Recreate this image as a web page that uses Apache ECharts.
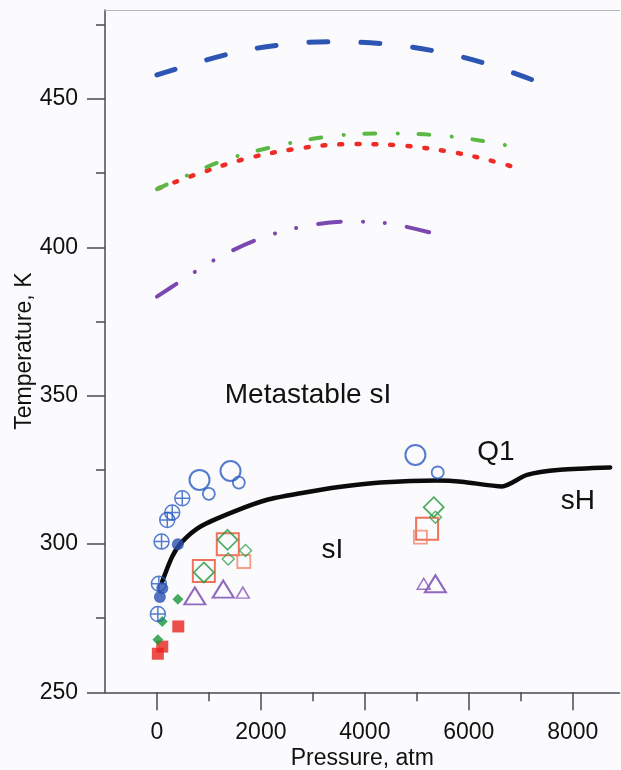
<!DOCTYPE html>
<html><head><meta charset="utf-8">
<script src="https://cdn.jsdelivr.net/npm/echarts@6/dist/echarts.min.js"></script>
<style>html,body{margin:0;padding:0;background:#fbfbfd}#c{width:621px;height:770px}</style>
</head><body><div id="c"></div>
<script>
// ---- tick labels ----
const xMajorTicks = [0, 2000, 4000, 6000, 8000];
const xMinorTicks = [1000, 3000, 5000, 7000];
const yMajorTicks = [250, 300, 350, 400, 450];
const yMinorTicks = [275, 325, 375, 425, 475];

// ---- curves [pressure atm, temperature K] ----
const curveBlue   = [[0,458.1],[1383,465.2],[2358,468.2],[3358,469.3],[4363,468.6],[5338,466.2],[6319,462.0],[7262,456.2]];
const curveGreen  = [[0,419.6],[1223,428.9],[2313,434.2],[3371,437.5],[4429,438.4],[5517,437.6],[6608,434.8],[6992,433.0]];
const curveRed    = [[30,419.9],[775,424.7],[1737,430.0],[2762,433.4],[3723,434.8],[4717,434.3],[5710,432.0],[6383,429.4],[7056,426.1]];
const curvePurple = [[0,383.4],[440,388.4],[1140,396.1],[1960,402.8],[2762,406.8],[3671,408.7],[4506,407.9],[5421,404.2]];
const curveQ1     = [[100,287.3],[294,295.8],[487,300.8],[838,305.9],[1479,310.9],[2121,314.9],[2762,317.1],[3500,319.2],[4300,320.7],[5390,321.4],[5864,321.0],[6640,319.4],[7120,323.3],[7760,325.0],[8720,325.8]];

// ---- experimental points ----
const crossedCircles    = [[487,315.4],[294,310.6],[198,308.1],[88,300.8],[37,286.6],[17,276.4]];
const openCirclesLarge  = [[819,321.6],[1415,324.6],[4973,330.0]];
const openCirclesSmall  = [[998,316.9],[1575,320.7],[5402,324.1]];
const filledCircles     = [[402,299.9],[102,285.1],[56,282.1]];
const filledDiamonds    = [[402,281.4],[102,273.9],[17,267.7]];
const filledSquares     = [[410,272.2],[102,265.4],[17,263.0]];
const openSquaresLarge  = [[1363,299.9],[902,290.9],[5198,305.1]];
const openSquaresSmall  = [[1671,294.1],[5069,302.3]];
const openDiamondsLarge = [[1358,301.4],[902,290.4],[5325,312.4]];
const openDiamondsSmall = [[1704,297.8],[1371,294.9],[5358,309.0]];
const trianglesLarge    = [[729,282.5],[1275,284.8],[5358,286.6]];
const trianglesSmall    = [[1652,283.6],[5133,286.6]];

// ---- region labels ----
const regionLabels = [
  {text:'Metastable sI', p:2906, t:350.1},
  {text:'Q1', p:6521, t:330.9},
  {text:'sH', p:8098, t:314.3},
  {text:'sI', p:3377, t:298.0}
];

const FONT = '"Liberation Sans", Arial, sans-serif';
const AX = '#474c53';
const X_MIN = -1000, X_MAX = 8900, Y_MIN = 250, Y_MAX = 480;

function lineSeries(data, color, width, dash) {
  return {type:'line', data, smooth:0.35, showSymbol:false, symbol:'none', silent:true,
    lineStyle:{color, width, type:dash, cap:'round', join:'round'}, z:3};
}
function scat(data, symbol, size, color, filled, bw) {
  return {type:'scatter', data, symbol, symbolSize:size, silent:true,
    itemStyle: filled ? {color} : {color:'rgba(0,0,0,0)', borderColor:color, borderWidth:bw||1.8}, z:4};
}
const crossPath = 'path://M10 0A10 10 0 1 1 10 20A10 10 0 1 1 10 0ZM10 0L10 20M0 10L20 10';
const plain = v => String(v);

const chart = echarts.init(document.getElementById('c'), null, {renderer:'canvas'});
const baseX = {type:'value', min:X_MIN, max:X_MAX, interval:1000, splitLine:{show:false}};
const baseY = {type:'value', min:Y_MIN, max:Y_MAX, interval:50, splitLine:{show:false}};
chart.setOption({
  animation:false,
  backgroundColor:'#fbfbfd',
  textStyle:{fontFamily:FONT},
  grid:{left:105, right:1.5, top:10, bottom:77.7, containLabel:false, outerBoundsMode:'none'},
  xAxis:[
    Object.assign({}, baseX, {position:'bottom',
      name:'Pressure, atm', nameLocation:'middle', nameGap:55, nameMoveOverlap:false,
      nameTextStyle:{fontFamily:FONT, fontSize:23, color:'#111'},
      axisLine:{show:true, onZero:false, lineStyle:{color:AX, width:1.5}},
      axisTick:{show:true, length:18, customValues:xMajorTicks, lineStyle:{color:AX, width:1.5}},
      axisLabel:{show:true, customValues:xMajorTicks, formatter:plain, margin:29, fontSize:23, color:'#111', fontFamily:FONT}}),
    Object.assign({}, baseX, {position:'bottom',
      axisLine:{show:false, onZero:false},
      axisTick:{show:true, length:9, customValues:xMinorTicks, lineStyle:{color:AX, width:1.5}},
      axisLabel:{show:false}}),
    Object.assign({}, baseX, {position:'top',
      axisLine:{show:true, onZero:false, lineStyle:{color:'#b3b7be', width:1}},
      axisTick:{show:false}, axisLabel:{show:false}})
  ],
  yAxis:[
    Object.assign({}, baseY, {position:'left',
      name:'Temperature, K', nameLocation:'middle', nameGap:69, nameRotate:90, nameMoveOverlap:false,
      nameTextStyle:{fontFamily:FONT, fontSize:23, color:'#111'},
      axisLine:{show:true, onZero:false, lineStyle:{color:AX, width:1.5}},
      axisTick:{show:true, length:18, customValues:yMajorTicks, lineStyle:{color:AX, width:1.5}},
      axisLabel:{show:true, customValues:yMajorTicks, formatter:plain, margin:27, fontSize:23, color:'#111', fontFamily:FONT}}),
    Object.assign({}, baseY, {position:'left',
      axisLine:{show:false, onZero:false},
      axisTick:{show:true, length:9, customValues:yMinorTicks, lineStyle:{color:AX, width:1.5}},
      axisLabel:{show:false}})
  ],
  series:[
    lineSeries(curveBlue, '#2c55b4', 5, [19,33]),
    lineSeries(curveRed, '#ee2b24', 4.5, [3,14]),
    lineSeries(curveGreen, '#5cb845', 4, [11,22,0.1,21]),
    lineSeries(curvePurple, '#7a48ae', 4, [23,22,0.1,22,0.1,22]),
    Object.assign(lineSeries(curveQ1, '#0b0b0b', 4.5, 'solid'), {smooth:0.25}),
    scat(filledSquares, 'rect', 12, '#e8231d', true),
    scat(filledDiamonds, 'diamond', 11, '#16983a', true),
    scat(trianglesLarge, 'triangle', [21,17], '#7543ad', false, 2),
    scat(trianglesSmall, 'triangle', [13,11], '#8455b8', false, 1.5),
    scat(openSquaresLarge, 'rect', 22, '#ec5032', false, 2),
    scat(openSquaresSmall, 'rect', 13, '#f28468', false, 1.8),
    scat(openDiamondsLarge, 'diamond', 20, '#23983f', false, 1.8),
    scat(openDiamondsSmall, 'diamond', 12, '#33a34f', false, 1.4),
    scat(crossedCircles, crossPath, 15, '#2a5bc2', false, 1.5),
    scat(openCirclesLarge, 'circle', 20, '#2a5bc2', false, 2),
    scat(openCirclesSmall, 'circle', 12, '#2a5bc2', false, 1.8),
    scat(filledCircles, 'circle', 12, '#2a50ae', true)
  ]
});

chart.setOption({
  graphic: regionLabels.map(l => {
    const [x, y] = chart.convertToPixel({xAxisIndex:0, yAxisIndex:0}, [l.p, l.t]);
    return {type:'text', x, y, z:10, silent:true,
      style:{text:l.text, fontFamily:FONT, fontSize:28, fill:'#111', align:'center', verticalAlign:'middle'}};
  })
});
</script></body></html>
